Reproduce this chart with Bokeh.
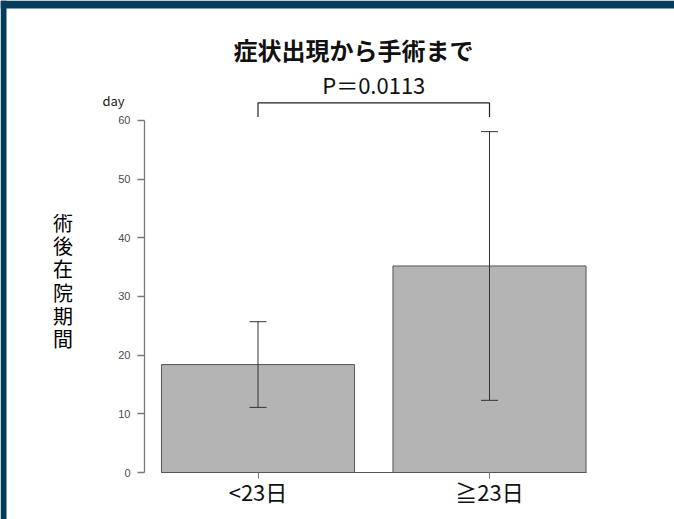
import numpy as np
from bokeh.plotting import figure
from bokeh.models import (Range1d, LinearAxis, FixedTicker, Whisker, TeeHead,
                          ColumnDataSource, BoxAnnotation)
from bokeh.core.properties import value
from bokeh.embed import file_html
from bokeh.resources import INLINE

# ---- data ----
title = "症状出現から手術まで"
groups = ["<23日", "≧23日"]
mean_days = [18.4, 35.2]
sd_days = [7.3, 22.9]
y_ticks = [0, 10, 20, 30, 40, 50, 60]
y_label = "術後在院期間"
y_unit = "day"
p_value_text = "P＝0.0113"
bracket_level = 63.0   # height of the significance bracket (days)
bracket_drop = 2.4     # length of the bracket legs (days)

# ---- layout (pixels) ----
W, H = 674, 519
X0_PX, Y0_PX = 257.5, 472.0     # canvas position of group 0 / value 0
X_PX_PER_GROUP = 231.5
Y_PX_PER_DAY = 5.867
BAR_WIDTH = 0.834
BAND = "#053d5e"
JP = value("Noto Sans CJK JP")


def gx(px):
    """canvas x pixel -> x data coordinate"""
    return (px - X0_PX) / X_PX_PER_GROUP


def gy(py):
    """canvas y pixel (from top) -> y data coordinate"""
    return (Y0_PX - py) / Y_PX_PER_DAY


x = np.arange(len(groups))
mean = np.array(mean_days)
sd = np.array(sd_days)
src = ColumnDataSource(dict(x=x, mean=mean, lower=mean - sd, upper=mean + sd))

p = figure(width=W, height=H,
           x_range=Range1d(gx(0), gx(W)), y_range=Range1d(gy(H), gy(0)),
           x_axis_type=None, y_axis_type=None,
           min_border=0, min_border_left=0, min_border_right=0,
           min_border_top=0, min_border_bottom=0,
           toolbar_location=None, output_backend="svg")
p.outline_line_color = None
p.background_fill_color = "white"
p.border_fill_color = "white"
p.grid.visible = False

# bars
p.vbar(x="x", top="mean", bottom=0, width=BAR_WIDTH, source=src,
       fill_color="#b4b4b4", line_color="#555555", line_width=1)

# error bars (mean ± SD), drawn over the bars
whisk = Whisker(source=src, base="x", lower="lower", upper="upper",
                line_color="#333333", line_width=1, level="overlay",
                upper_head=TeeHead(size=17, line_color="#333333", line_width=1),
                lower_head=TeeHead(size=17, line_color="#333333", line_width=1))
p.add_layout(whisk)

# y axis
yaxis = LinearAxis(fixed_location=gx(144), bounds=(y_ticks[0], y_ticks[-1]),
                   ticker=FixedTicker(ticks=y_ticks))
yaxis.axis_line_color = "#777777"
yaxis.axis_line_width = 1.3
yaxis.major_tick_line_color = "#777777"
yaxis.major_tick_line_width = 1.3
yaxis.major_tick_out = 7
yaxis.major_tick_in = 0
yaxis.minor_tick_line_color = None
yaxis.major_label_standoff = 7
yaxis.major_label_text_font = "Liberation Sans"
yaxis.major_label_text_font_size = "11px"
yaxis.major_label_text_color = "#4d4d4d"
p.add_layout(yaxis, "left")

# x axis along the baseline
xaxis = LinearAxis(fixed_location=0, bounds=(x[0] - BAR_WIDTH / 2, x[-1] + BAR_WIDTH / 2),
                   ticker=FixedTicker(ticks=list(x)),
                   major_label_overrides={int(i): g for i, g in zip(x, groups)})
xaxis.axis_line_color = "#555555"
xaxis.axis_line_width = 1
xaxis.major_tick_line_color = "#777777"
xaxis.major_tick_out = 6
xaxis.major_tick_in = 0
xaxis.minor_tick_line_color = None
xaxis.major_label_standoff = -4
xaxis.major_label_text_font = "Noto Sans CJK JP"
xaxis.major_label_text_font_size = "22px"
xaxis.major_label_text_color = "#111111"
p.add_layout(xaxis, "below")

# significance bracket between the two groups
p.line(x=[x[0], x[0], x[-1], x[-1]],
       y=[bracket_level - bracket_drop, bracket_level, bracket_level, bracket_level - bracket_drop],
       line_color="#222222", line_width=1.2)
p.text(x=[(x[0] + x[-1]) / 2], y=[gy(83)], text=[p_value_text],
       text_font=JP, text_font_size="22px", text_color="#111111",
       text_align="center", text_baseline="alphabetic")

# title
p.text(x=[gx(353)], y=[gy(49)], text=[title],
       text_font=JP, text_font_size="24px", text_font_style="bold",
       text_color="#111111", text_align="center", text_baseline="alphabetic")

# unit above the y axis
p.text(x=[gx(113)], y=[gy(100)], text=[y_unit],
       text_font=JP, text_font_size="13px", text_color="#222222",
       text_align="center", text_baseline="alphabetic")

# stacked vertical y label
p.text(x=[gx(62.5)], y=[gy(280)], text=["\n".join(y_label)],
       text_font=JP, text_font_size="20px",
       text_color="#000000", text_line_height=0.8,
       text_align="center", text_baseline="middle")

# dark frame bands at top and left
p.add_layout(BoxAnnotation(bottom=gy(8), fill_color=BAND, fill_alpha=1, line_color=None))
p.add_layout(BoxAnnotation(right=gx(6), fill_color=BAND, fill_alpha=1, line_color=None))

open("out.html", "w").write(file_html(p, INLINE))
